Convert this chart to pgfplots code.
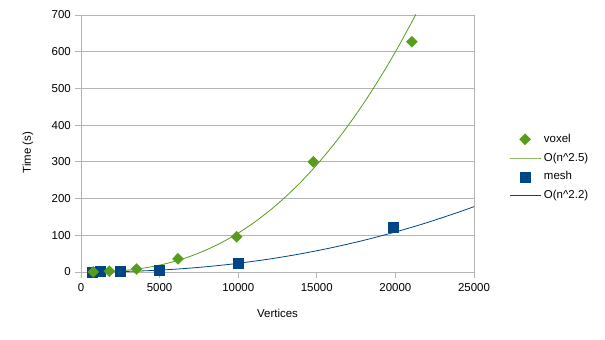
\documentclass[border=0pt]{standalone}
\usepackage{pgfplots}
\pgfplotsset{compat=1.18}
\usepackage{fontspec}
\setmainfont{Liberation Sans}
\definecolor{vgreen}{HTML}{579D1C}
\definecolor{mblue}{HTML}{004586}
\definecolor{gridgray}{HTML}{B3B3B3}
\begin{document}
\begin{tikzpicture}
\useasboundingbox (0,0) rectangle (605bp,340bp);
\begin{axis}[
    at={(81bp,68bp)}, anchor=south west,
    scale only axis, width=393bp, height=257bp,
    xmin=0, xmax=25000, ymin=0, ymax=700,
    xtick={0,5000,10000,15000,20000,25000},
    ytick={0,100,200,300,400,500,600,700},
    scaled x ticks=false,
    /pgf/number format/set thousands separator={},
    /pgf/number format/assume math mode=true,
    font=\fontsize{11.5}{13}\selectfont,
    tick align=outside, major tick length=6bp,
    xtick pos=bottom, ytick pos=left,
    tick style={gridgray, line width=0.8bp},
    axis line style={gridgray, line width=0.8bp},
    ymajorgrids, grid style={gridgray, line width=0.8bp},
    yticklabel style={anchor=east, inner sep=0pt, xshift=-4bp},
    xticklabel style={anchor=north, inner sep=0pt, yshift=-5bp},
    xlabel={Vertices}, ylabel={Time (s)},
    xlabel style={at={(axis description cs:0.5,-0.1595)}, anchor=center},
    ylabel style={at={(axis description cs:-0.1349,0.464)}, anchor=center, rotate=0},
    legend image code/.code={\draw[mark repeat=2,mark phase=2,#1] plot coordinates {(0bp,0bp) (15.5bp,0bp) (31bp,0bp)};},
    legend style={at={(1.089,0.5385)}, anchor=north west, draw=none, fill=none,
        inner sep=0pt, row sep=7.7bp,
        /tikz/every odd column/.style={column sep=3bp},
        nodes={inner sep=0pt, text height=8.5bp, text depth=2.5bp, anchor=west}},
]
% mesh data and fit (drawn first, below the voxel series)
\addplot[only marks, mark=square*, mark size=5bp, color=mblue, forget plot] coordinates {
    (700,0.5) (1200,1) (2480,2) (4960,4) (9970,23) (19870,121)
};
\addplot[mblue, line width=0.8bp, smooth, forget plot] coordinates {
    (700,0.07) (1000,0.15) (2000,0.69) (3000,1.68) (4000,3.16) (5000,5.16)
    (6000,7.7) (7000,10.8) (8000,14.5) (9000,18.8) (10000,23.7) (12000,35.4)
    (14000,49.7) (16000,66.7) (18000,86.4) (20000,109.0) (22000,134.3)
    (24000,162.7) (25000,178)
};
% voxel data and fit
\addplot[only marks, mark=diamond*, mark size=5.5bp, mark options={xscale=1.33}, color=vgreen] coordinates {
    (780,0.5) (1800,2) (3540,8) (6170,36) (9900,96) (14780,300) (21050,627)
};
\addplot[vgreen, line width=0.8bp, smooth] coordinates {
    (780,0.18) (1000,0.34) (2000,1.9) (3000,5.2) (4000,10.7) (5000,18.7)
    (6000,29.6) (7000,43.5) (8000,60.7) (9000,81.5) (10000,106) (11000,134.5)
    (12000,167.2) (13000,204.3) (14000,245.8) (15000,292.2) (16000,343.2)
    (17000,399.4) (18000,460.8) (19000,527.5) (20000,599.6) (21000,677.4)
    (21300,701.8)
};
\addlegendimage{only marks, mark=square*, mark size=5bp, color=mblue}
\addlegendimage{mblue, line width=0.8bp}
\legend{voxel, O(n\textasciicircum 2.5), mesh, O(n\textasciicircum 2.2)}
\end{axis}
\end{tikzpicture}
\end{document}
